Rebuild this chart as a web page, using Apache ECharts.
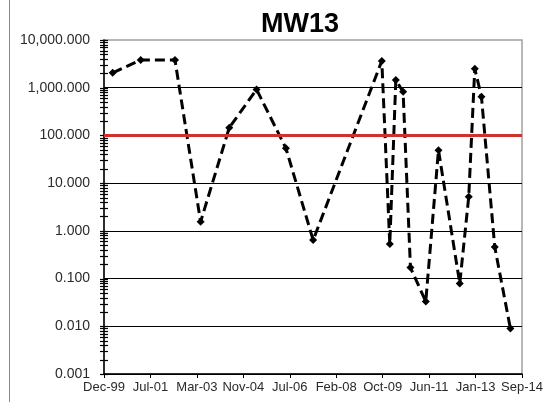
<!DOCTYPE html>
<html>
<head>
<meta charset="utf-8">
<title>MW13</title>
<script src="https://cdn.jsdelivr.net/npm/echarts@6/dist/echarts.min.js"></script>
<style>
  html, body { margin: 0; padding: 0; background: #fff; }
  #chart { width: 546px; height: 402px; }
</style>
</head>
<body>
<div id="chart"></div>
<script>
// Sample dates and measured concentrations for well MW13
const sampleDates = [
  '2000-03-27', '2001-03-24', '2002-06-10', '2003-05-07', '2004-05-11',
  '2005-04-29', '2006-05-13', '2007-04-30', '2009-10-03', '2010-01-14',
  '2010-04-02', '2010-07-05', '2010-10-08', '2011-04-24', '2011-10-05',
  '2012-07-06', '2012-10-30', '2013-01-16', '2013-04-12', '2013-10-01',
  '2014-04-21'
];
const concentrations = [
  2050, 3800, 3800, 1.55, 145,
  920, 54, 0.64, 3650, 0.53,
  1450, 820, 0.17, 0.033, 49,
  0.079, 5.2, 2500, 650, 0.46,
  0.009
];
// Screening level drawn as the red reference line
const screeningLevel = 100;

// Axis range: date axis with a fixed 600-day step, log concentration axis
const axisStartDate = '1999-12-06';
const axisStepDays = 600;
const axisSteps = 9;
const yMin = 0.001;
const yMax = 10000;

const DAY = 86400000;
const toTs = s => { const [y, m, d] = s.split('-').map(Number); return Date.UTC(y, m - 1, d); };
const xMin = toTs(axisStartDate);
const xMax = xMin + axisStepDays * axisSteps * DAY;
const monthNames = ['Jan','Feb','Mar','Apr','May','Jun','Jul','Aug','Sep','Oct','Nov','Dec'];

const seriesData = sampleDates.map((d, i) => [toTs(d), concentrations[i]]);

// Tick positions on the log axis: each decade plus 2..9 in between
const yTicks = [];
for (let e = Math.log10(yMin); e <= Math.log10(yMax); e++) {
  const base = Math.pow(10, e);
  yTicks.push([xMin, base]);
  if (e < Math.log10(yMax)) {
    for (let k = 2; k <= 9; k++) yTicks.push([xMin, k * base]);
  }
}

function fmtY(v) {
  const n = Number(Number(v).toPrecision(6));
  const parts = n.toFixed(3).split('.');
  parts[0] = parts[0].replace(/\B(?=(\d{3})+(?!\d))/g, ',');
  return parts.join('.');
}
function fmtX(v) {
  const d = new Date(v);
  return monthNames[d.getUTCMonth()] + '-' + String(d.getUTCFullYear() % 100).padStart(2, '0');
}

const FONT = '"Liberation Sans", Arial, sans-serif';
const chart = echarts.init(document.getElementById('chart'), null, { renderer: 'canvas' });

chart.setOption({
  animation: false,
  backgroundColor: '#fff',
  title: {
    text: 'MW13',
    left: 261,
    top: 11,
    padding: 0,
    textStyle: { fontFamily: FONT, fontSize: 27, fontWeight: 'bold', color: '#000' }
  },
  graphic: [{
    type: 'line',
    shape: { x1: 9.5, y1: 0, x2: 9.5, y2: 402 },
    style: { stroke: '#8a8a8a', lineWidth: 1 }
  }],
  grid: {
    left: 104, right: 24, top: 40, bottom: 28,
    show: true, borderColor: '#a0a0a0', borderWidth: 1.5, backgroundColor: 'transparent'
  },
  xAxis: {
    type: 'value',
    min: xMin, max: xMax, interval: axisStepDays * DAY,
    axisLine: { lineStyle: { color: '#000', width: 1.5 } },
    axisTick: { show: true, length: 4, lineStyle: { color: '#000' } },
    splitLine: { show: false },
    axisLabel: {
      formatter: fmtX, color: '#2a2a2a', fontFamily: FONT, fontSize: 13, margin: 7,
      showMinLabel: true, showMaxLabel: true, hideOverlap: false
    }
  },
  yAxis: {
    type: 'log', logBase: 10, min: yMin, max: yMax, splitNumber: 7,
    axisLine: { show: true, lineStyle: { color: '#000', width: 1.5 } },
    axisTick: { show: false },
    splitLine: { show: true, showMaxLine: false, lineStyle: { color: '#000', width: 1.2 } },
    axisLabel: { formatter: fmtY, color: '#2a2a2a', fontFamily: FONT, fontSize: 14, margin: 14 }
  },
  series: [
    {
      type: 'custom',
      silent: true,
      clip: false,
      z: 3,
      data: yTicks,
      renderItem: function (params, api) {
        const p = api.coord([api.value(0), api.value(1)]);
        const y = Math.round(p[1]) + 0.5;
        return {
          type: 'line',
          shape: { x1: p[0] - 4, y1: y, x2: p[0] + 4, y2: y },
          style: { stroke: '#000', lineWidth: 1.2 }
        };
      }
    },
    {
      type: 'line',
      data: seriesData,
      z: 4,
      symbol: 'diamond',
      symbolSize: 8,
      itemStyle: { color: '#000' },
      lineStyle: { color: '#000', width: 3, type: [10, 5] },
      markLine: {
        silent: true,
        symbol: 'none',
        label: { show: false },
        lineStyle: { color: '#d0312d', width: 3, type: 'solid' },
        data: [{ yAxis: screeningLevel }]
      }
    }
  ]
});
</script>
</body>
</html>
